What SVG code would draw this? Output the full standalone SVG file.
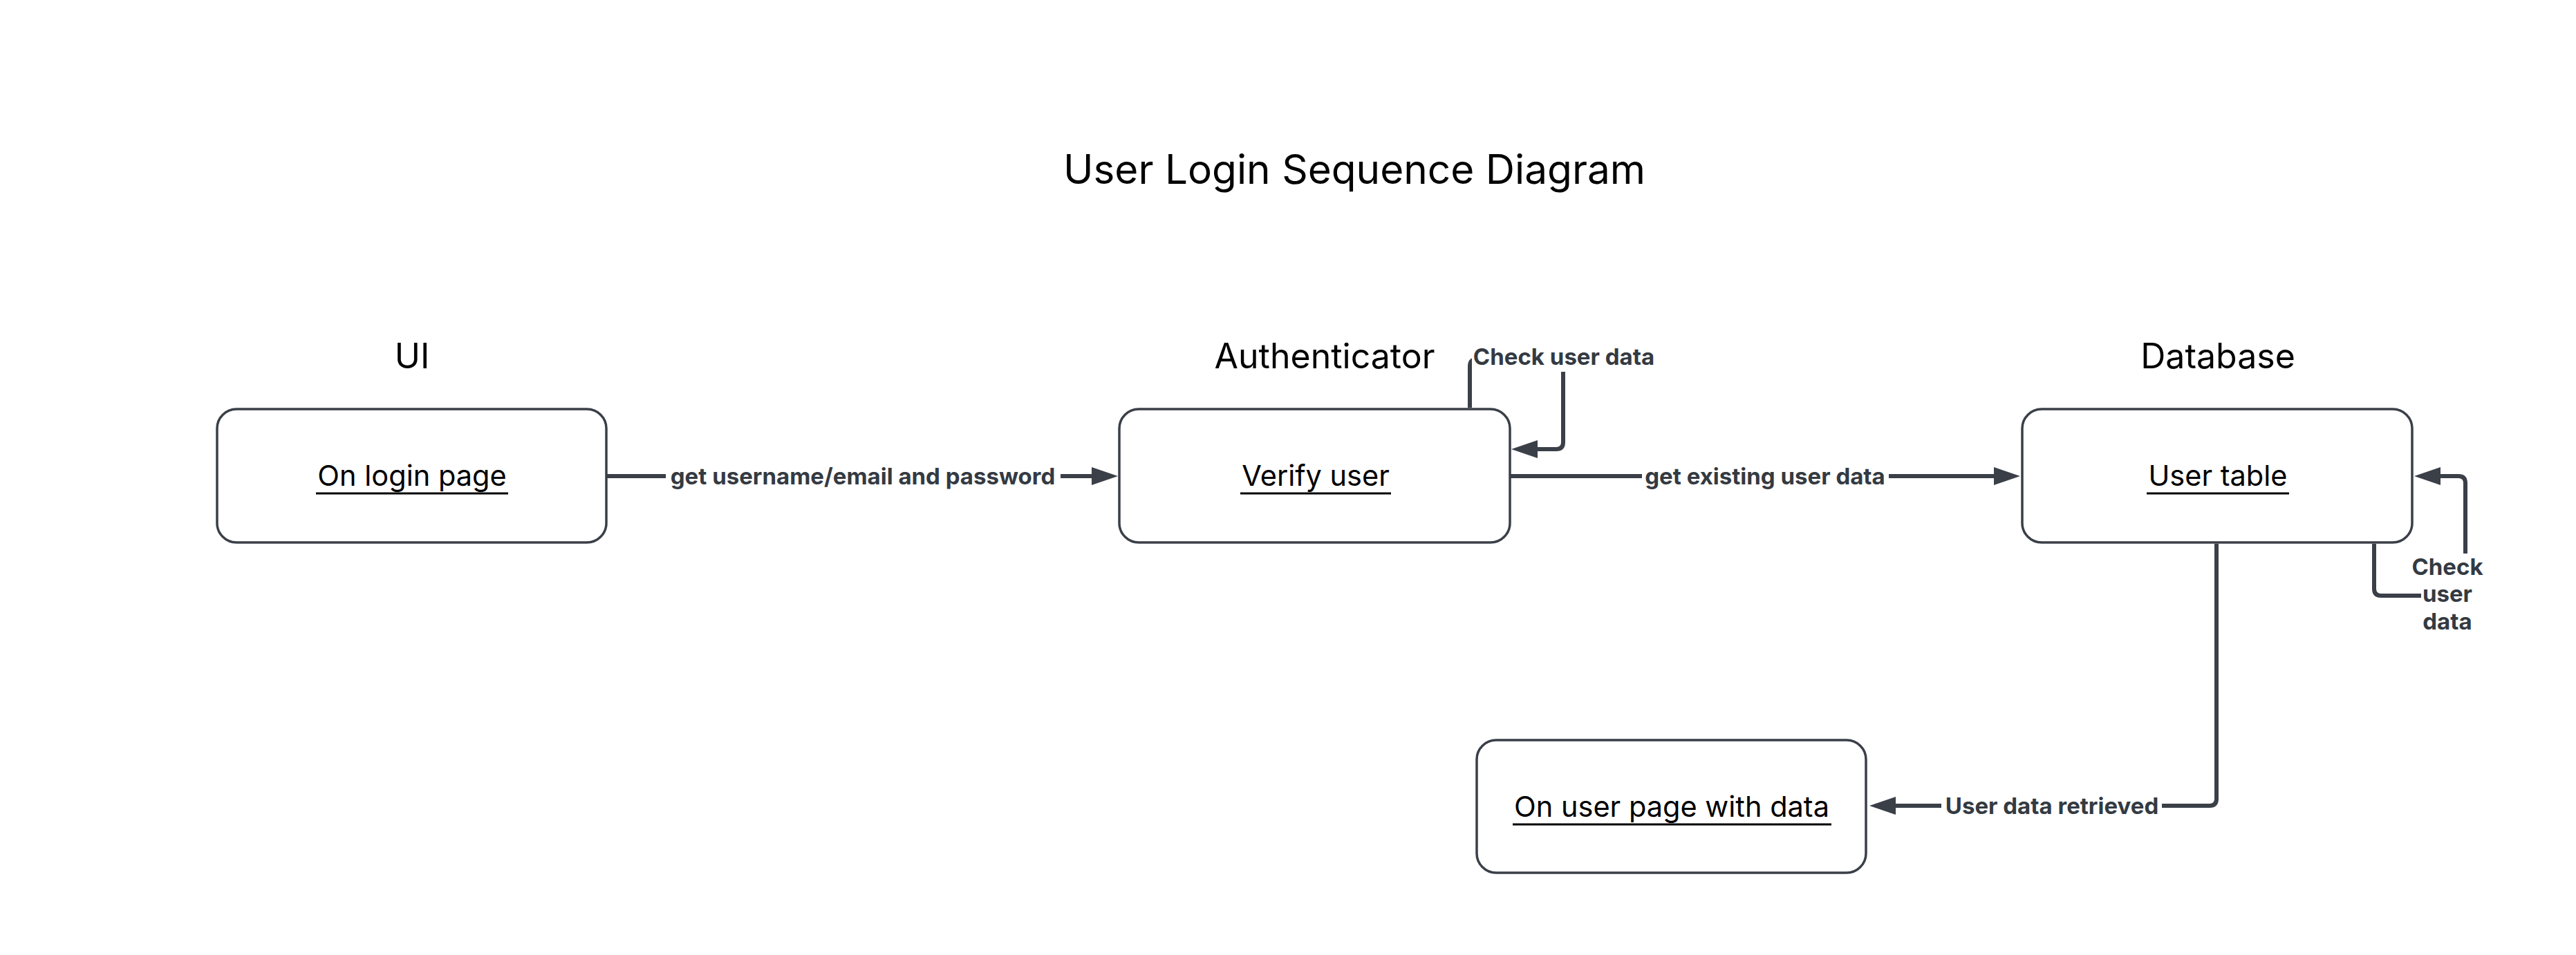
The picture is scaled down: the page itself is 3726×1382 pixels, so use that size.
<svg xmlns="http://www.w3.org/2000/svg" width="3726" height="1382" viewBox="0 0 3726 1382">
<style>
.title{font-family:Inter,"Liberation Sans",sans-serif;font-size:58.5px;fill:#000;text-anchor:middle}
.hdr{font-family:Inter,"Liberation Sans",sans-serif;font-size:50px;fill:#000;text-anchor:middle}
.box{fill:#fff;stroke:#3a3f48;stroke-width:3.5}
.ntext{font-family:Inter,"Liberation Sans",sans-serif;font-size:41.5px;fill:#000;text-anchor:middle}
.ul{stroke:#000;stroke-width:3}
.edge{fill:none;stroke:#3a3f48;stroke-width:6;stroke-linejoin:round}
.lbl{font-family:Inter,"Liberation Sans",sans-serif;font-size:33px;font-weight:700;fill:#343a42;text-anchor:middle}
.lblbg{fill:#fff}
</style>
<defs>
<marker id="arr" markerUnits="userSpaceOnUse" markerWidth="40" markerHeight="28" refX="0" refY="13" orient="auto">
<path d="M0,0 L38,13 L0,26 Z" fill="#3a3f48"/>
</marker>
</defs>
<rect width="3726" height="1382" fill="#fff"/>
<text class="title" x="1959" y="266">User Login Sequence Diagram</text>

<g id="connectors">
<g id="e1">
<path class="edge" d="M877 689 H1579" marker-end="url(#arr)"/>
<rect class="lblbg" x="963" y="668" width="571" height="44"/>
<text class="lbl" x="1248" y="701">get username/email and password</text>
</g>
<g id="e2">
<path class="edge" d="M2184 689 H2884" marker-end="url(#arr)"/>
<rect class="lblbg" x="2375" y="668" width="357" height="44"/>
<text class="lbl" x="2553" y="701">get existing user data</text>
</g>
<g id="e3">
<path class="edge" d="M2126 590 V530 Q2126 520 2136 520 H2261 V640 Q2261 650 2251 650 H2224" marker-end="url(#arr)"/>
<rect class="lblbg" x="2129" y="496" width="268" height="42"/>
<text class="lbl" x="2262" y="528">Check user data</text>
</g>
<g id="e4">
<path class="edge" d="M3434 787 V852 Q3434 862 3444 862 H3566 V699 Q3566 689 3556 689 H3530" marker-end="url(#arr)"/>
<rect class="lblbg" x="3486" y="801" width="108" height="41"/>
<rect class="lblbg" x="3502" y="842" width="76" height="80"/>
<text class="lbl" x="3540" y="832">Check</text>
<text class="lbl" x="3540" y="871">user</text>
<text class="lbl" x="3540" y="911">data</text>
</g>
<g id="e5">
<path class="edge" d="M3206 787 V1156 Q3206 1166 3196 1166 H2742" marker-end="url(#arr)"/>
<rect class="lblbg" x="2808" y="1145" width="319" height="44"/>
<text class="lbl" x="2968" y="1178">User data retrieved</text>
</g>
</g>

<g id="node-ui">
<text class="hdr" x="596" y="533">UI</text>
<rect class="box" x="314" y="592" width="563" height="193" rx="28"/>
<text class="ntext" x="596" y="703">On login page</text>
<line class="ul" x1="457" y1="714" x2="735" y2="714"/>
</g>

<g id="node-auth">
<text class="hdr" x="1916" y="533">Authenticator</text>
<rect class="box" x="1619" y="592" width="565" height="193" rx="28"/>
<text class="ntext" x="1903" y="703">Verify user</text>
<line class="ul" x1="1794" y1="714" x2="2012" y2="714"/>
</g>

<g id="node-db">
<text class="hdr" x="3208" y="533">Database</text>
<rect class="box" x="2925" y="592" width="564" height="193" rx="28"/>
<text class="ntext" x="3208" y="703">User table</text>
<line class="ul" x1="3105" y1="714" x2="3311" y2="714"/>
</g>

<g id="node-userpage">
<rect class="box" x="2136" y="1071" width="563" height="192" rx="28"/>
<text class="ntext" x="2418" y="1182">On user page with data</text>
<line class="ul" x1="2188" y1="1193" x2="2649" y2="1193"/>
</g>
</svg>
